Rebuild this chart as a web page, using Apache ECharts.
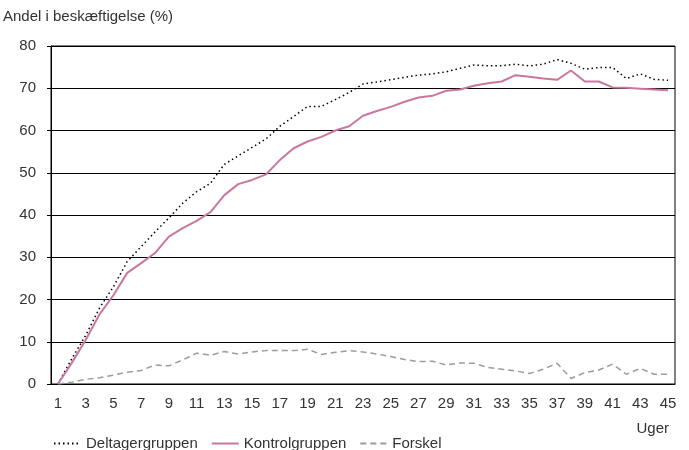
<!DOCTYPE html>
<html>
<head>
<meta charset="utf-8">
<script src="https://cdn.jsdelivr.net/npm/echarts@6/dist/echarts.min.js"></script>
<style>
html, body { margin: 0; padding: 0; background: #fff; }
#chart { width: 689px; height: 450px; }
</style>
</head>
<body>
<div id="chart"></div>
<script>
var weeks = [];
for (var i = 1; i <= 45; i++) weeks.push(String(i));

var deltager = [0, 6, 11.5, 18, 23, 29, 32.5, 36, 39.3, 42.8, 45.5, 47.5, 52, 54, 56, 58, 61, 63.3, 65.7, 65.7,
    67.3, 69, 71, 71.5, 72, 72.6, 73.1, 73.4, 73.9, 74.7, 75.5, 75.3, 75.3, 75.7, 75.3, 75.7, 76.8, 75.9, 74.5, 74.9,
    74.9, 72.3, 73.4, 72.1, 71.9];
var kontrol = [0, 5, 10.4, 16.5, 21, 26.3, 28.6, 31, 34.9, 36.9, 38.6, 40.7, 44.7, 47.3, 48.3, 49.6, 53, 55.8, 57.4, 58.5,
    60, 61, 63.5, 64.6, 65.6, 66.8, 67.8, 68.2, 69.4, 69.7, 70.6, 71.2, 71.6, 73.1, 72.7, 72.3, 72, 74.2, 71.6, 71.6,
    70.2, 70.1, 69.9, 69.7, 69.5];
var forskel = [0, 0.4, 1.1, 1.5, 2.1, 2.8, 3.2, 4.5, 4.3, 5.7, 7.3, 6.8, 7.7, 7.1, 7.6, 7.9, 7.9, 7.9, 8.2, 7.0,
    7.5, 7.9, 7.6, 7.1, 6.5, 5.8, 5.3, 5.4, 4.5, 5.0, 4.9, 3.9, 3.5, 3.1, 2.5, 3.5, 4.9, 1.3, 2.7, 3.3,
    4.7, 2.3, 3.7, 2.3, 2.3];

var chart = echarts.init(document.getElementById('chart'));
var font = 'Liberation Sans, Arial, sans-serif';
option = {
    animation: false,
    textStyle: { fontFamily: font },
    grid: {
        left: 49, right: 14, top: 46, bottom: 66,
        show: true,
        borderColor: '#000',
        borderWidth: 1
    },
    legend: {
        left: 48,
        top: 431,
        itemWidth: 27,
        itemHeight: 10,
        itemGap: 13,
        itemStyle: { opacity: 0 },
        textStyle: { color: '#333', fontSize: 15, fontFamily: font },
        data: ['Deltagergruppen', 'Kontrolgruppen', 'Forskel']
    },
    xAxis: {
        type: 'category',
        data: weeks,
        boundaryGap: true,
        name: 'Uger',
        nameLocation: 'end',
        nameGap: 0,
        nameTextStyle: { color: '#333', fontSize: 15, align: 'right', verticalAlign: 'top', padding: [37, 6, 0, 0] },
        axisLine: { lineStyle: { color: '#000', width: 1 } },
        axisTick: { interval: 0, length: 5, lineStyle: { color: '#000' } },
        axisLabel: { interval: 1, color: '#333', fontSize: 15, margin: 12 },
        splitLine: { show: false }
    },
    yAxis: {
        type: 'value',
        min: 0, max: 80, interval: 10,
        name: 'Andel i beskæftigelse (%)',
        nameLocation: 'end',
        nameGap: 22,
        nameTextStyle: { color: '#333', fontSize: 15, align: 'left', padding: [0, 0, 0, -48] },
        axisLine: { show: true, lineStyle: { color: '#000', width: 1 } },
        axisTick: { show: true, length: 4, lineStyle: { color: '#000' } },
        axisLabel: { color: '#333', fontSize: 15, margin: 15 },
        splitLine: { lineStyle: { color: '#000', width: 1 } }
    },
    series: [
        {
            name: 'Deltagergruppen',
            type: 'line',
            data: deltager,
            symbol: 'none',
            lineStyle: { color: '#000', width: 1.5, type: [1.5, 3] },
            itemStyle: { color: '#000' }
        },
        {
            name: 'Kontrolgruppen',
            type: 'line',
            data: kontrol,
            symbol: 'none',
            lineStyle: { color: '#c9779f', width: 2 },
            itemStyle: { color: '#c9779f' }
        },
        {
            name: 'Forskel',
            type: 'line',
            data: forskel,
            symbol: 'none',
            lineStyle: { color: '#9c9c9c', width: 1.5, type: [6, 4] },
            itemStyle: { color: '#9c9c9c' }
        }
    ]
};
chart.setOption(option);
</script>
</body>
</html>
